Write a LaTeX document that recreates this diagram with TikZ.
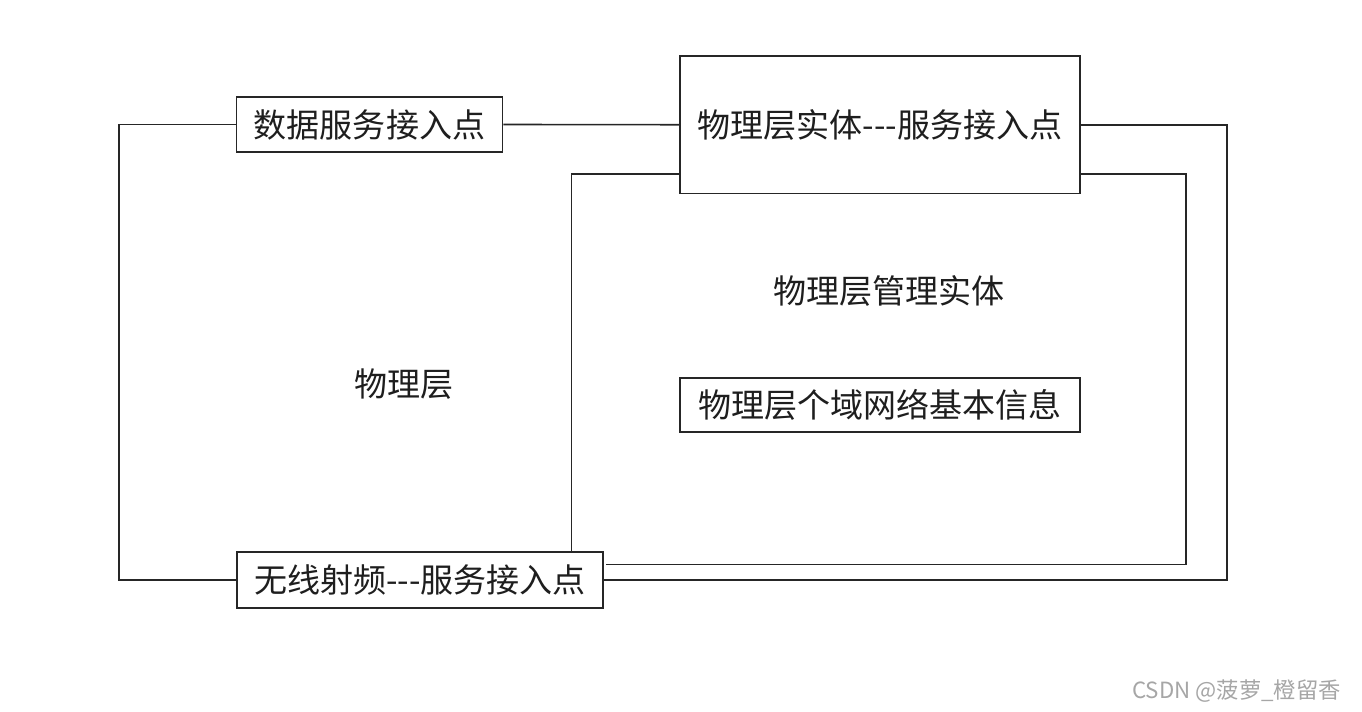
\documentclass[tikz,border=0pt]{standalone}
\usepackage{fontspec}
\usepackage{xcolor}
\usepackage{tikz}
\usetikzlibrary{positioning, calc}
\newfontfamily\cjk{Noto Sans CJK SC}
\definecolor{lineblk}{HTML}{262626}
\definecolor{txtblk}{HTML}{1E1E1E}
\definecolor{wmgrey}{HTML}{A6A6A6}

\begin{document}
\begin{tikzpicture}[
    sap/.style={rectangle, draw=lineblk, line width=0.9pt, fill=white,
                inner sep=0pt, font=\cjk\fontsize{18.8}{22}\selectfont,
                text=txtblk, align=center},
    lbl/.style={font=\cjk\fontsize{18.8}{22}\selectfont, text=txtblk},
    link/.style={draw=lineblk, line width=0.9pt},
    wmark/.style={font=\cjk\fontsize{12.7}{15}\selectfont, text=wmgrey},
]
\useasboundingbox (0,0) rectangle (27.24,14.24);

% ============== boxes ==============
\node[sap, minimum width=5.32cm, minimum height=1.11cm] (dsap) at (7.39,11.75) {数据服务接入点};
\node[sap, minimum width=8cm, minimum height=2.75cm] (physap) at (17.6,11.745) {物理层实体-{}-{}-服务接入点};
\node[sap, minimum width=8cm, minimum height=1.08cm] (pib) at (17.6,6.14) {物理层个域网络基本信息};
\node[sap, minimum width=7.33cm, minimum height=1.12cm] (rfsap) at (8.40,2.64) {无线射频-{}-{}-服务接入点};

% ============== plain labels ==============
\node[lbl] (phy) at (8.08,6.56) {物理层};
\node[lbl] (plme) at (17.78,8.42) {物理层管理实体};

% ============== connectors ==============
% outer loop: physical layer
\draw[link] (dsap.west) -- ++(-2.33,0) |- (rfsap.west);
\draw[link] (dsap.east) -- (physap.west);
\draw[link] (physap.east) -- ++(2.92,0) |- (rfsap.east);

% inner loop: management entity
\draw[link] ($(physap.south west)+(0,0.41)$) -| ($(rfsap.north)+(3.03,0)$);
\draw[link] ($(physap.south east)+(0,0.41)$) -- ++(2.1,0) |- ($(rfsap.east)+(0.04,0.31)$);

% ============== watermark ==============
\node[wmark, anchor=east] (wm) at (26.94,0.42) {CSDN @菠萝\_橙留香};

\end{tikzpicture}
\end{document}
